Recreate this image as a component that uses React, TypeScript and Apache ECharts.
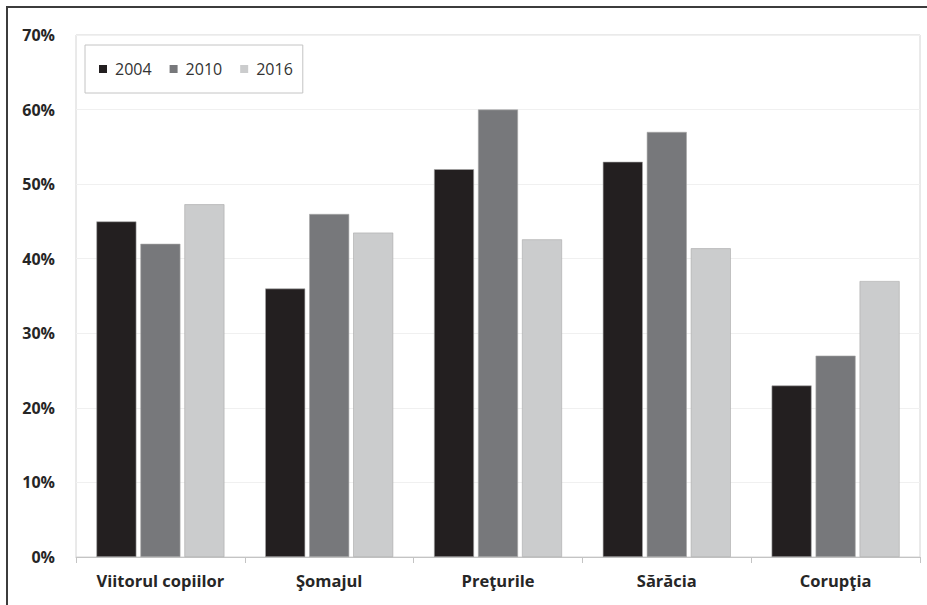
import React, { useEffect, useRef } from "react";
import * as echarts from "echarts";

const categories = ["Viitorul copiilor", "Şomajul", "Preţurile", "Sărăcia", "Corupţia"];
const years = ["2004", "2010", "2016"];
const values2004 = [45, 36, 52, 53, 23];
const values2010 = [42, 46, 60, 57, 27];
const values2016 = [47.3, 43.5, 42.6, 41.4, 37];
const colors = ["#231f20", "#77787b", "#cbcccd"];

export default function App() {
  const ref = useRef<HTMLDivElement>(null);
  useEffect(() => {
    if (!ref.current) return;
    const chart = echarts.init(ref.current, null, { renderer: "svg" });
    const font = "'Open Sans', Lato, sans-serif";
    const seriesData = [values2004, values2010, values2016];
    chart.setOption({
      animation: false,
      backgroundColor: "#ffffff",
      textStyle: { fontFamily: font },
      grid: {
        left: 76,
        top: 35,
        right: 7,
        bottom: 48,
        show: true,
        borderColor: "#d4d4d4",
        borderWidth: 1,
        containLabel: false,
      },
      legend: {
        data: years,
        left: 85,
        top: 45,
        orient: "horizontal",
        icon: "rect",
        itemWidth: 8,
        itemHeight: 8,
        itemGap: 18,
        padding: [16, 10, 16, 14],
        borderColor: "#c4c4c4",
        borderWidth: 1,
        backgroundColor: "#ffffff",
        itemStyle: { borderWidth: 0 },
        textStyle: { fontSize: 16, color: "#333333", fontFamily: font, padding: [0, 0, 0, 3] },
      },
      xAxis: {
        type: "category",
        data: categories,
        axisLine: { show: true, lineStyle: { color: "#c4c4c4", width: 1 } },
        axisTick: { show: true, length: 6, lineStyle: { color: "#c4c4c4" } },
        axisLabel: {
          fontSize: 16.5,
          fontWeight: "bold",
          color: "#262626",
          margin: 15,
          fontFamily: font,
        },
      },
      yAxis: {
        type: "value",
        min: 0,
        max: 70,
        interval: 10,
        axisLine: { show: false },
        axisTick: { show: false },
        axisLabel: {
          formatter: "{value}%",
          fontSize: 16,
          fontWeight: "bold",
          color: "#262626",
          margin: 21,
          fontFamily: font,
        },
        splitLine: { lineStyle: { color: "#f0f0f0", width: 1 } },
      },
      series: years.map((y, i) => ({
        name: y,
        type: "bar",
        data: seriesData[i],
        barWidth: 40,
        barGap: "10%",
        itemStyle: { color: colors[i], borderColor: "#a8a8a8", borderWidth: 0.6 },
      })),
      graphic: [
        {
          type: "line",
          shape: { x1: 7, y1: 7, x2: 927, y2: 7 },
          style: { stroke: "#3c3c3c", lineWidth: 2 },
          z: 100,
        },
        {
          type: "line",
          shape: { x1: 7, y1: 6, x2: 7, y2: 605 },
          style: { stroke: "#3c3c3c", lineWidth: 2 },
          z: 100,
        },
      ],
    });
    return () => chart.dispose();
  }, []);
  return (
    <div
      ref={ref}
      style={{ position: "fixed", left: 0, top: 0, width: 927, height: 605, background: "#fff" }}
    />
  );
}
